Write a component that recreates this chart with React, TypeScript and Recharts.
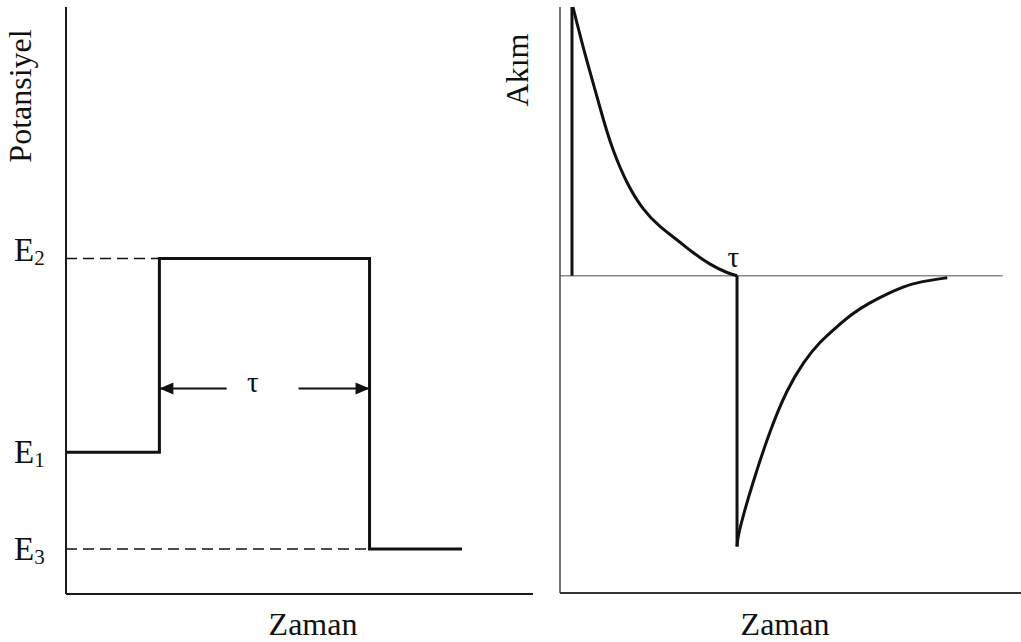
import { ComposedChart, Line, Scatter, XAxis, YAxis, ReferenceLine, ReferenceDot, Label } from 'recharts';

// Potential programme: E1 -> E2 (for tau) -> E3
const levelNames = ['1', '2', '3'];
const levelValues = [1.45, 3.43, 0.46];

const stepTimes = [0, 1.0, 3.25, 4.24];
const stepPotentials = [1.45, 3.43, 0.46, 0.46];

// guide lines from the axis to the step edges
const e2GuideTimes = [0, 1.0];
const e3GuideTimes = [0, 3.25];

// tau arrow between the two edges
const tauLevel = 2.1;
const tauShaftLeft = [1.0, 1.72];
const tauShaftRight = [2.49, 3.25];
const tauTipTimes = [1.0, 3.25];
const tauTipDirs = [-1, 1];
const tauLabelLeft = { t: 2.0, v: 2.17 };

// Current response
const riseTimes = [0.13, 0.13];
const riseCurrents = [0, 1.0];
const decayTimes = [0.14, 0.25, 0.36, 0.47, 0.57, 0.73, 0.9, 1.08, 1.27, 1.44, 1.63, 1.81, 1.92];
const decayCurrents = [1.0, 0.85, 0.717, 0.58, 0.468, 0.338, 0.245, 0.182, 0.134, 0.086, 0.041, 0.011, 0];
const dropTimes = [1.92, 1.92];
const dropCurrents = [0, -1.007];
const recoveryTimes = [1.92, 1.93, 1.98, 2.09, 2.28, 2.46, 2.64, 2.82, 3.0, 3.18, 3.36, 3.55, 3.72, 3.9, 4.2];
const recoveryCurrents = [-1.007, -0.97, -0.9, -0.77, -0.572, -0.424, -0.32, -0.245, -0.19, -0.138, -0.1, -0.067, -0.041, -0.022, -0.007];
const zeroLineEnd = 4.8;
const tauLabelRight = { t: 1.88, v: 0.07 };

const zip = (ts: number[], vs: number[]) => ts.map((t, i) => ({ t, v: vs[i] }));

const serif = '"Liberation Serif", "Times New Roman", serif';
const ink = '#111';

function LevelTick(props: any) {
  const { y, payload } = props;
  const i = levelValues.indexOf(payload.value);
  const name = levelNames[i];
  // E2 sits on its guide line, the others are centred on it
  const base = name === '2' ? y + 3 : y + 11;
  return (
    <text x={14} y={base} fontFamily={serif} fontSize={33} fill={ink}>
      E
      <tspan fontSize={21} dy={4}>{name}</tspan>
    </text>
  );
}

function ArrowHead(props: any) {
  const { cx, cy, payload } = props;
  const d = payload.dir;
  const len = 14;
  const half = 6;
  return <path d={`M${cx},${cy} L${cx - d * len},${cy - half} L${cx - d * len},${cy + half} Z`} fill={ink} />;
}

function TauLabel(props: any) {
  const { x, y, width, height } = props.viewBox;
  return (
    <text x={x + width / 2} y={y + height / 2} textAnchor="middle" dominantBaseline="central" fontFamily={serif} fontSize={29} fill={ink}>
      τ
    </text>
  );
}

function PotentialChart() {
  return (
    <ComposedChart width={545} height={642} margin={{ top: 7, right: 12, bottom: 0, left: 0 }} style={{ position: 'absolute', left: 0, top: 0 }}>
      <XAxis
        type="number"
        dataKey="t"
        domain={[0, 5]}
        height={48}
        tick={false}
        tickLine={false}
        axisLine={{ stroke: '#1a1a1a', strokeWidth: 2 }}
      >
        <Label content={() => (
          <text x={313} y={635} textAnchor="middle" fontFamily={serif} fontSize={32} fill={ink}>Zaman</text>
        )} />
      </XAxis>
      <YAxis
        type="number"
        domain={[0, 6]}
        width={66}
        ticks={levelValues}
        interval={0}
        tick={<LevelTick />}
        tickLine={false}
        axisLine={{ stroke: '#1a1a1a', strokeWidth: 2 }}
      >
        <Label content={() => (
          <text transform="translate(31,96) rotate(-90)" textAnchor="middle" fontFamily={serif} fontSize={32} fill={ink}>Potansiyel</text>
        )} />
      </YAxis>
      <Line data={zip(e2GuideTimes, [levelValues[1], levelValues[1]])} dataKey="v" stroke={ink} strokeWidth={1.5} strokeDasharray="11 6" dot={false} isAnimationActive={false} />
      <Line data={zip(e3GuideTimes, [levelValues[2], levelValues[2]])} dataKey="v" stroke={ink} strokeWidth={1.5} strokeDasharray="11 6" dot={false} isAnimationActive={false} />
      <Line data={zip(stepTimes, stepPotentials)} dataKey="v" type="stepAfter" stroke={ink} strokeWidth={3} dot={false} isAnimationActive={false} />
      <Line data={zip(tauShaftLeft, [tauLevel, tauLevel])} dataKey="v" stroke={ink} strokeWidth={2} dot={false} isAnimationActive={false} />
      <Line data={zip(tauShaftRight, [tauLevel, tauLevel])} dataKey="v" stroke={ink} strokeWidth={2} dot={false} isAnimationActive={false} />
      <Scatter
        data={tauTipTimes.map((t, i) => ({ t, v: tauLevel, dir: tauTipDirs[i] }))}
        dataKey="v"
        shape={<ArrowHead />}
        isAnimationActive={false}
      />
      <ReferenceDot x={tauLabelLeft.t} y={tauLabelLeft.v} r={0.5} fill="none" stroke="none" label={<TauLabel />} />
    </ComposedChart>
  );
}

function CurrentChart() {
  return (
    <ComposedChart width={531} height={642} margin={{ top: 7, right: 0, bottom: 0, left: 0 }} style={{ position: 'absolute', left: 490, top: 0 }}>
      <XAxis
        type="number"
        dataKey="t"
        domain={[0, 5]}
        height={49}
        tick={false}
        tickLine={false}
        axisLine={{ stroke: '#333', strokeWidth: 2 }}
      >
        <Label content={() => (
          <text x={295} y={635} textAnchor="middle" fontFamily={serif} fontSize={32} fill={ink}>Zaman</text>
        )} />
      </XAxis>
      <YAxis
        type="number"
        domain={[-1.18, 1]}
        width={70}
        tick={false}
        tickLine={false}
        axisLine={{ stroke: '#444', strokeWidth: 1.5 }}
      >
        <Label content={() => (
          <text transform="translate(38,70) rotate(-90)" textAnchor="middle" fontFamily={serif} fontSize={32} fill={ink}>Akım</text>
        )} />
      </YAxis>
      <ReferenceLine segment={[{ x: 0, y: 0 }, { x: zeroLineEnd, y: 0 }]} stroke="#8a8a8a" strokeWidth={1.5} />
      <Line data={zip(riseTimes, riseCurrents)} dataKey="v" stroke={ink} strokeWidth={3} dot={false} isAnimationActive={false} />
      <Line data={zip(decayTimes, decayCurrents)} dataKey="v" type="basis" stroke={ink} strokeWidth={3} dot={false} isAnimationActive={false} />
      <Line data={zip(dropTimes, dropCurrents)} dataKey="v" stroke={ink} strokeWidth={3} dot={false} isAnimationActive={false} />
      <Line data={zip(recoveryTimes, recoveryCurrents)} dataKey="v" type="basis" stroke={ink} strokeWidth={3} dot={false} isAnimationActive={false} />
      <ReferenceDot x={tauLabelRight.t} y={tauLabelRight.v} r={0.5} fill="none" stroke="none" label={<TauLabel />} />
    </ComposedChart>
  );
}

export default function App() {
  return (
    <div style={{ position: 'absolute', left: 0, top: 0, width: 1021, height: 642, background: '#fff' }}>
      <PotentialChart />
      <CurrentChart />
    </div>
  );
}
